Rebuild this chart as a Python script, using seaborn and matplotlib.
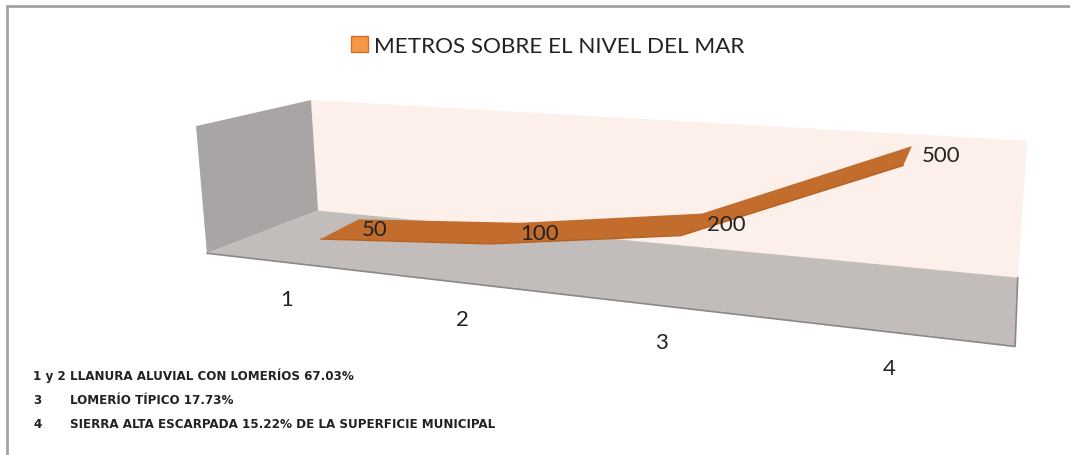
"""
Gráfico de líneas 3D: altitud por unidad de relieve.
"""
import numpy as np
import matplotlib.pyplot as plt
import seaborn as sns
from matplotlib.patches import Polygon, Patch

categorias = ['1', '2', '3', '4']
altitud = [50, 100, 200, 500]
serie = 'METROS SOBRE EL NIVEL DEL MAR'
claves = ['1 y 2', '3', '4']
unidades = ['LLANURA ALUVIAL CON LOMERÍOS 67.03%',
            'LOMERÍO TÍPICO 17.73%',
            'SIERRA ALTA ESCARPADA 15.22% DE LA SUPERFICIE MUNICIPAL']

W, H = 1070, 456
VMAX = 500  # tope del eje de valores

# Caja 3D: esquinas (u, profundidad, altura) y su sitio en la imagen
caja_3d = np.array([[0, 0, 0], [1, 0, 0], [0, 1, 0], [1, 1, 0],
                    [0, 0, 1], [1, 0, 1], [0, 1, 1]], float)
caja_px = np.array([[317, 212], [1018, 278], [208, 254], [1015, 348],
                    [312, 101], [1027, 142], [195, 127]], float)


def ajustar_camara(p3, p2):
    filas = []
    for (X, Y, Z), (x, y) in zip(p3, p2 / 1000):
        filas.append([X, Y, Z, 1, 0, 0, 0, 0, -x * X, -x * Y, -x * Z, -x])
        filas.append([0, 0, 0, 0, X, Y, Z, 1, -y * X, -y * Y, -y * Z, -y])
    _, _, vt = np.linalg.svd(np.array(filas))
    return vt[-1].reshape(3, 4)


P = ajustar_camara(caja_3d, caja_px)


def proyectar(u, w, h):
    u, w, h = np.broadcast_arrays(np.asarray(u, float), np.asarray(w, float),
                                  np.asarray(h, float))
    pts = np.stack([u.ravel(), w.ravel(), h.ravel(), np.ones(u.size)])
    x, y, z = P @ pts
    return np.column_stack([x / z, y / z]) * 1000


sns.set_theme(style='white')
plt.rcParams['font.family'] = ['Lato', 'DejaVu Sans']

fig = plt.figure(figsize=(W / 100, H / 100), dpi=100)
ax = fig.add_axes([0, 0, 1, 1])

# Paredes y piso
pared_fondo = proyectar([0, 1, 1, 0], 0, [0, 0, 1, 1])
pared_izq = proyectar(0, [0, 1, 1, 0], [0, 0, 1, 1])
piso = proyectar([0, 1, 1, 0], [0, 0, 1, 1], 0)
ax.add_patch(Polygon(pared_fondo, closed=True, fc='#FDF0EA', ec='none'))
ax.add_patch(Polygon(pared_izq, closed=True, fc='#A9A5A5', ec='none'))
ax.add_patch(Polygon(piso, closed=True, fc='#C2BCBA', ec='none'))
ax.plot(piso[[3, 2, 1], 0], piso[[3, 2, 1], 1], color='#8C8888', lw=1.2)

# Cinta de la serie (cara superior + grosor frontal)
u = (np.arange(len(categorias)) + 0.5) / len(categorias)
h = np.array(altitud) / VMAX
frente = proyectar(u, 0.7, h - 0.03)
atras = proyectar(u, 0.33, h)
ax.add_patch(Polygon(np.vstack([frente, atras[::-1]]), closed=True,
                     fc='#C26C2D', ec='none'))
sns.lineplot(x=frente[:, 0], y=frente[:, 1], ax=ax, sort=False,
             color='#B8621F', lw=1)

# Etiquetas de datos
centro = proyectar(u, 0.5, h)
for (x, y), v in zip(centro, altitud):
    ax.annotate(str(v), (x, y), xytext=(24, -2), textcoords='offset points',
                ha='center', va='center', fontsize=16, color='#222222')

# Etiquetas de categoría bajo el piso
borde = proyectar(u, 1.0, 0)
for (x, y), c in zip(borde, categorias):
    ax.annotate(c, (x, y), xytext=(0, -26), textcoords='offset points',
                ha='center', va='center', fontsize=16, color='#222222')

# Leyenda
fig.legend(handles=[Patch(fc='#F79646', ec='#C8742E', label=serie)],
           loc='center', bbox_to_anchor=(0.512, 0.897), frameon=False,
           fontsize=16.2, handlelength=0.75, handleheight=0.75,
           handletextpad=0.3, labelcolor='#222222')

# Notas
nota = dict(fontsize=9.5, fontweight='bold', va='center', color='#222222',
            family='DejaVu Sans', fontstretch='condensed')
for i, (k, t) in enumerate(zip(claves, unidades)):
    y = 377 + 24 * i
    ax.text(33, y, k, **nota)
    ax.text(70, y, t, **nota)

# Marco de la figura
ax.plot([7, W], [7, 7], color='#A3A3A3', lw=2)
ax.plot([7, 7], [7, H], color='#A3A3A3', lw=2)

ax.set_xlim(0, W)
ax.set_ylim(H, 0)
ax.axis('off')

plt.savefig('out.png', dpi=100)
plt.close()
